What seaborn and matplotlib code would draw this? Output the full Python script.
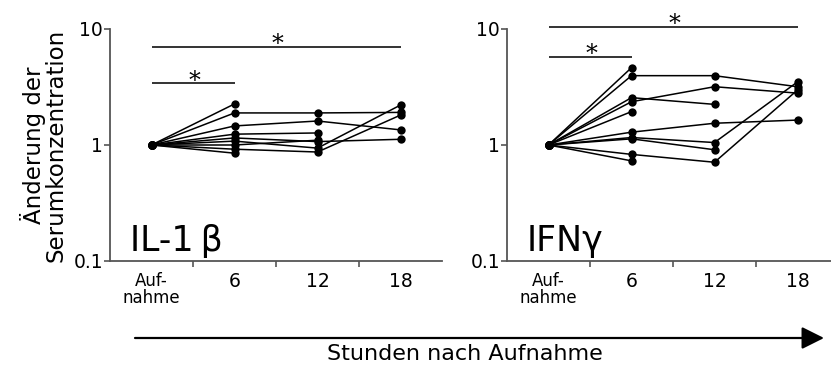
import numpy as np
import pandas as pd
import matplotlib
matplotlib.use("Agg")
import matplotlib.pyplot as plt
from matplotlib.patches import FancyArrowPatch
import seaborn as sns

sns.set_theme(style="white")
plt.rcParams["font.family"] = ["DejaVu Sans"]
plt.rcParams["text.color"] = "black"
plt.rcParams["xtick.color"] = "black"
plt.rcParams["ytick.color"] = "black"
plt.rcParams["axes.labelcolor"] = "black"

# time points (category index) and their tick labels
times = [0, 1, 2, 3]
time_labels = ["Auf-\nnahme", "6", "12", "18"]

# fold change of serum concentration per patient (NaN = no sample)
il1b_p1 = [1.0, 2.26, np.nan, np.nan]
il1b_p2 = [1.0, 1.89, 1.89, 1.91]
il1b_p3 = [1.0, 1.46, 1.61, 1.35]
il1b_p4 = [1.0, 1.24, 1.27, np.nan]
il1b_p5 = [1.0, 1.15, 1.07, 1.12]
il1b_p6 = [1.0, 1.08, 0.94, 2.21]
il1b_p7 = [1.0, 0.92, 0.87, 1.81]
il1b_p8 = [1.0, 1.00, 1.10, np.nan]
il1b_p9 = [1.0, 0.85, np.nan, np.nan]

ifng_p1 = [1.0, 4.64, np.nan, np.nan]
ifng_p2 = [1.0, 3.96, 3.96, 3.18]
ifng_p3 = [1.0, 2.56, 2.24, np.nan]
ifng_p4 = [1.0, 2.36, 3.18, 2.80]
ifng_p5 = [1.0, 1.94, np.nan, np.nan]
ifng_p6 = [1.0, 1.29, 1.54, 1.64]
ifng_p7 = [1.0, 1.16, 1.05, 3.50]
ifng_p8 = [1.0, 1.13, 0.91, np.nan]
ifng_p9 = [1.0, 0.83, 0.71, 2.98]
ifng_p10 = [1.0, 0.73, np.nan, np.nan]

il1b_series = [il1b_p1, il1b_p2, il1b_p3, il1b_p4, il1b_p5,
               il1b_p6, il1b_p7, il1b_p8, il1b_p9]
ifng_series = [ifng_p1, ifng_p2, ifng_p3, ifng_p4, ifng_p5,
               ifng_p6, ifng_p7, ifng_p8, ifng_p9, ifng_p10]


def to_long(series):
    rows = []
    for pid, vals in enumerate(series):
        for t, v in zip(times, vals):
            if not np.isnan(v):
                rows.append({"patient": pid, "time": t, "value": v})
    return pd.DataFrame(rows)


W, H = 831, 365
fig = plt.figure(figsize=(W / 100, H / 100), dpi=100)

ax_w = 332 / W
ax_h = 232 / H
ax_b = 1 - 261 / H
ax1 = fig.add_axes([110 / W, ax_b, ax_w, ax_h])
ax2 = fig.add_axes([507 / W, ax_b, ax_w, ax_h])

spine_col = "#555555"

for ax, series, name in [(ax1, il1b_series, "IL-1\u2009β"), (ax2, ifng_series, "IFNγ")]:
    df = to_long(series)
    sns.lineplot(data=df, x="time", y="value", units="patient", estimator=None,
                 color="black", lw=1.1, marker="o", markersize=6,
                 markeredgewidth=0, ax=ax, legend=False)
    ax.set_yscale("log")
    ax.set_ylim(0.1, 10)
    ax.set_xlim(-0.5, 3.5)
    ax.set_yticks([0.1, 1, 10])
    ax.set_yticklabels(["0.1", "1", "10"])
    ax.yaxis.set_minor_locator(matplotlib.ticker.NullLocator())
    ax.set_xticks(times)
    ax.set_xticklabels(time_labels)
    ax.set_xticks([0.5, 1.5, 2.5], minor=True)
    ax.tick_params(axis="x", which="major", length=0, pad=8, labelsize=13.5)
    ax.tick_params(axis="x", which="minor", length=4, width=1.2, color=spine_col,
                   direction="out", bottom=True)
    ax.tick_params(axis="y", which="major", length=4, width=1.2, color=spine_col,
                   direction="out", left=True, labelsize=13.5, pad=1)
    for lab in ax.get_xticklabels():
        if lab.get_text().startswith("Auf"):
            lab.set_fontsize(12)
            lab.set_linespacing(0.95)
    for s in ["top", "right"]:
        ax.spines[s].set_visible(False)
    for s in ["left", "bottom"]:
        ax.spines[s].set_color(spine_col)
        ax.spines[s].set_linewidth(1.3)
    ax.set_xlabel("")
    ax.set_ylabel("")
    ax.grid(False)
    ax.text(0.06, 0.045, name, transform=ax.transAxes, fontsize=25,
            ha="left", va="baseline")

# significance brackets: (axis, x0, x1, y)
brackets = [(ax1, 0, 1, 3.40), (ax1, 0, 3, 6.95),
            (ax2, 0, 1, 5.77), (ax2, 0, 3, 10.45)]
for ax, x0, x1, y in brackets:
    ax.plot([x0, x1], [y, y], color="#333333", lw=1.4, clip_on=False,
            solid_capstyle="butt")
    ax.annotate("*", ((x0 + x1) / 2 + 0.02, y), xytext=(0, -3),
                textcoords="offset points", ha="center", va="baseline",
                fontsize=17, family="DejaVu Serif", annotation_clip=False)

ax1.set_ylabel("Änderung der\nSerumkonzentration", fontsize=16.5,
               linespacing=0.95, labelpad=4)

# time arrow beneath both panels
arrow = FancyArrowPatch((135 / W, 1 - 338 / H), (824 / W, 1 - 338 / H),
                        transform=fig.transFigure, arrowstyle="-|>",
                        mutation_scale=34, lw=1.6, color="black",
                        shrinkA=0, shrinkB=0)
fig.add_artist(arrow)
fig.text(465 / W, 1 - 354 / H, "Stunden nach Aufnahme", ha="center",
         va="center", fontsize=16)

fig.savefig("out.png", dpi=100)
